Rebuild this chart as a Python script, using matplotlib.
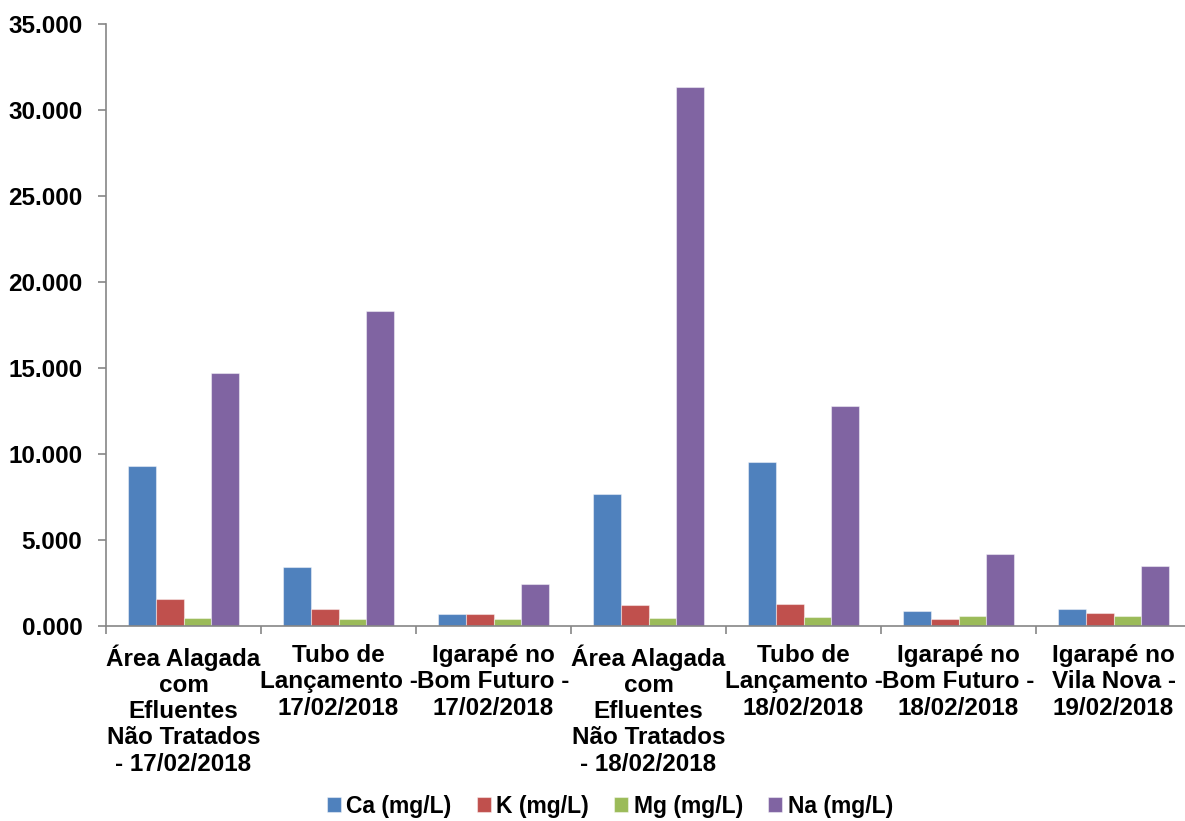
import numpy as np
import matplotlib
matplotlib.use("Agg")
import matplotlib.pyplot as plt
from matplotlib.ticker import FormatStrFormatter

plt.rcParams['font.family'] = ['Liberation Sans', 'DejaVu Sans']
plt.rcParams['font.weight'] = 'bold'

locais = [
    "Área Alagada\ncom\nEfluentes\nNão Tratados\n- 17/02/2018",
    "Tubo de\nLançamento -\n17/02/2018",
    "Igarapé no\nBom Futuro -\n17/02/2018",
    "Área Alagada\ncom\nEfluentes\nNão Tratados\n- 18/02/2018",
    "Tubo de\nLançamento -\n18/02/2018",
    "Igarapé no\nBom Futuro -\n18/02/2018",
    "Igarapé no\nVila Nova -\n19/02/2018",
]

ca = [9.28, 3.43, 0.68, 7.66, 9.52, 0.89, 0.97]
k = [1.57, 0.97, 0.68, 1.20, 1.28, 0.39, 0.76]
mg = [0.47, 0.39, 0.39, 0.47, 0.52, 0.58, 0.58]
na = [14.70, 18.30, 2.46, 31.34, 12.77, 4.17, 3.49]

series = [
    ("Ca (mg/L)", ca, "#4F81BD"),
    ("K (mg/L)", k, "#C0504D"),
    ("Mg (mg/L)", mg, "#9BBB59"),
    ("Na (mg/L)", na, "#8064A2"),
]

fig = plt.figure(figsize=(11.85, 8.21), dpi=100)
ax = fig.add_axes([0.0895, 0.2375, 0.9156, 0.7333])

x = np.arange(len(locais))
w = 0.18
for i, (nome, vals, cor) in enumerate(series):
    ax.bar(x + (i - 1.5) * w, vals, w, color=cor, label=nome,
           edgecolor=(1, 1, 1, 0.45), linewidth=0.8)

ax.set_xlim(-0.5, len(locais) - 0.5)
ax.set_ylim(0, 35)
ax.set_yticks(np.arange(0, 36, 5))
ax.yaxis.set_major_formatter(FormatStrFormatter('%.3f'))

ax.set_xticks(x)
ax.set_xticklabels(locais, fontsize=17.5, fontweight='bold', linespacing=1.18)
ax.set_xticks(np.arange(-0.5, len(locais), 1), minor=True)
ax.tick_params(axis='x', which='major', length=0, pad=13)
ax.tick_params(axis='x', which='minor', length=6, width=1.2, color='#868686', direction='out')
ax.tick_params(axis='y', length=6, width=1.2, color='#868686', labelsize=17.5, pad=11)
for lab in ax.get_yticklabels():
    lab.set_fontweight('bold')

for s in ['top', 'right']:
    ax.spines[s].set_visible(False)
for s in ['left', 'bottom']:
    ax.spines[s].set_color('#868686')
    ax.spines[s].set_linewidth(1.2)

fig.legend(loc='center', bbox_to_anchor=(610 / 1185, 1 - 806 / 821), ncol=4,
           frameon=False, handlelength=0.6, handleheight=0.6,
           handletextpad=0.25, columnspacing=1.1,
           prop={'weight': 'bold', 'size': 16.5})

fig.savefig("out.png", dpi=100)
